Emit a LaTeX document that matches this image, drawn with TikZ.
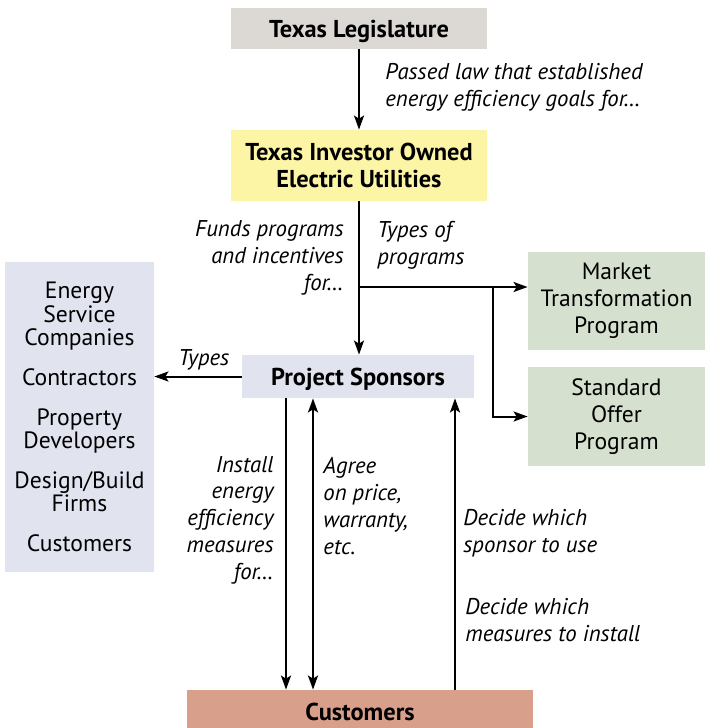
\documentclass[tikz,border=0pt]{standalone}
\usepackage{fontspec}
\setmainfont{PT Sans}
\usetikzlibrary{arrows.meta}
\definecolor{legisfill}{HTML}{DCD8D4}
\definecolor{utilfill}{HTML}{FDF5A6}
\definecolor{sponsfill}{HTML}{E1E3EF}
\definecolor{progfill}{HTML}{D5E0CF}
\definecolor{custfill}{HTML}{D8A08B}
\begin{document}
\begin{tikzpicture}[x=0.5pt,y=-0.5pt]
\tikzset{
  box/.style={inner sep=0pt, align=center, font=\fontsize{11.8}{13.5}\selectfont},
  headbox/.style={box, text depth=0pt, font=\fontsize{12.2}{13.3}\selectfont\bfseries},
  lbl/.style={inner sep=0pt, font=\fontsize{11.4}{13.4}\selectfont\itshape},
  arr/.style={line width=1pt, -{Stealth[length=7pt,width=5pt,inset=1.5pt]}},
  darr/.style={line width=1pt, {Stealth[length=7pt,width=5pt,inset=1.5pt]}-{Stealth[length=7pt,width=5pt,inset=1.5pt]}}
}
\useasboundingbox (0,0) rectangle (705,728);
\clip (0,0) rectangle (705,728);

% boxes
\node[headbox, fill=legisfill, minimum width=128pt, minimum height=20.5pt] (leg) at (359,28.5) {Texas Legislature};
\node[headbox, fill=utilfill, minimum width=128pt, minimum height=35.5pt] (util) at (359,165.5) {Texas Investor Owned\\Electric Utilities};
\node[headbox, fill=sponsfill, minimum width=116pt, minimum height=21.5pt] (spons) at (358,376.5) {Project Sponsors};
\node[box, fill=sponsfill, minimum width=74.5pt, minimum height=155pt, font=\fontsize{11.8}{11.8}\selectfont] (types) at (79.5,417)
  {Energy\\Service\\Companies\\[8pt]Contractors\\[8pt]Property\\Developers\\[8pt]Design/Build\\Firms\\[8pt]Customers};
\node[box, fill=progfill, minimum width=88.5pt, minimum height=49pt] (mkt) at (616.5,301) {Market\\Transformation\\Program};
\node[box, fill=progfill, minimum width=88.5pt, minimum height=49.5pt] (std) at (616.5,416.5) {Standard\\Offer\\Program};
\node[headbox, fill=custfill, minimum width=173pt, minimum height=22pt] (cust) at (360,712) {Customers};

% connectors
\draw[arr] (leg) -- (util);
\draw[arr] (util.south) -- (util.south |- spons.north);
\coordinate (split) at (359,287);
\coordinate (fork) at (493,287);
\draw[arr] (split) -- (mkt.west |- split);
\draw[arr] (fork) |- (std.west);
\draw[arr] (spons.west) -- (types.east |- spons.west);
\draw[arr] ([xshift=-36pt]spons.south) -- ([xshift=-36pt]spons.south |- cust.north);
\draw[darr] ([xshift=-22.5pt]spons.south) -- ([xshift=-22.5pt]spons.south |- cust.north);
\draw[arr] ([xshift=48.5pt]spons.south |- cust.north) -- ([xshift=48.5pt]spons.south);

% labels
\node[lbl, anchor=west, align=left] (l1) at (385,87) {Passed law that established\\energy efficiency goals for\dots};
\node[lbl, anchor=east, align=right] (l2) at (344,258) {Funds programs\\and incentives\\for\dots};
\node[lbl, anchor=west, align=left] (l3) at (377,245) {Types of\\programs};
\node[lbl, anchor=west] (l4) at (178,360) {Types};
\node[lbl, anchor=east, align=right] (l5) at (274,520) {Install\\energy\\efficiency\\measures\\for\dots};
\node[lbl, anchor=west, align=left] (l6) at (323,506) {Agree\\on price,\\warranty,\\etc.};
\node[lbl, anchor=west, align=left] (l7) at (463,533) {Decide which\\sponsor to use};
\node[lbl, anchor=west, align=left] (l8) at (465,620) {Decide which\\measures to install};
\end{tikzpicture}
\end{document}
